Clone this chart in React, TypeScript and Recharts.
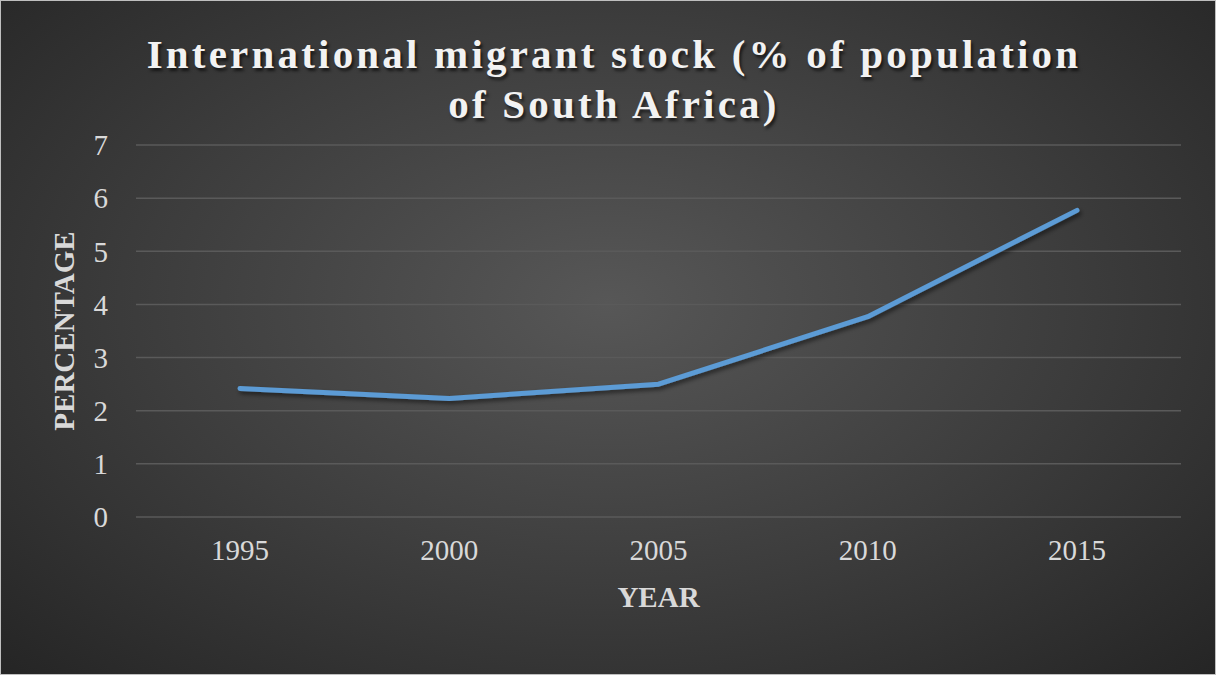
import React from 'react';
import { LineChart, Line, XAxis, YAxis, CartesianGrid } from 'recharts';

const years = ['1995', '2000', '2005', '2010', '2015'];
const migrantShare = [2.42, 2.23, 2.5, 3.77, 5.77];
const yTicks = [0, 1, 2, 3, 4, 5, 6, 7];

const data = years.map((year, i) => ({ year, value: migrantShare[i] }));

const serif = 'Liberation Serif';

const App: React.FC = () => {
  return (
    <div
      style={{
        position: 'absolute',
        left: 0,
        top: 0,
        width: 1216,
        height: 675,
        boxSizing: 'border-box',
        border: '1px solid #bfbfbf',
        background: 'radial-gradient(ellipse at 50% 45%, #575757 0%, #3c3c3c 55%, #252525 100%)',
        fontFamily: serif,
        overflow: 'hidden',
      }}
    >
      <div
        style={{
          position: 'absolute',
          left: 0,
          top: 28,
          width: 1226,
          textAlign: 'center',
          color: '#f2f2f2',
          fontFamily: serif,
          fontSize: 41,
          fontWeight: 'bold',
          letterSpacing: 3.2,
          lineHeight: '50px',
          textShadow: '2px 3px 3px rgba(0,0,0,0.6)',
        }}
      >
        International migrant stock (% of population
        <br />
        of South Africa)
      </div>
      <LineChart
        width={1216}
        height={675}
        data={data}
        margin={{ top: 144, right: 36, bottom: 99, left: 0 }}
      >
        <defs>
          <filter id="lineShadow" x="-5%" y="-20%" width="110%" height="140%">
            <feDropShadow dx="2" dy="3" stdDeviation="2" floodColor="#000" floodOpacity="0.5" />
          </filter>
        </defs>
        <CartesianGrid vertical={false} stroke="#5a5a5a" strokeWidth={1.5} />
        <XAxis
          dataKey="year"
          axisLine={false}
          tickLine={false}
          tickMargin={16}
          height={60}
          padding={{ left: 104, right: 104 }}
          tick={{ fill: '#d9d9d9', fontSize: 29, fontFamily: serif }}
          label={{
            value: 'YEAR',
            position: 'insideBottom',
            offset: -30,
            fill: '#d9d9d9',
            fontSize: 29,
            fontWeight: 'bold',
            fontFamily: serif,
          }}
        />
        <YAxis
          width={135}
          domain={[0, 7]}
          ticks={yTicks}
          axisLine={false}
          tickLine={false}
          tickMargin={22}
          tick={{ fill: '#d9d9d9', fontSize: 29, fontFamily: serif }}
          label={{
            value: 'PERCENTAGE',
            angle: -90,
            position: 'insideLeft',
            offset: 63,
            fill: '#d9d9d9',
            fontSize: 29,
            fontWeight: 'bold',
            fontFamily: serif,
            style: { textAnchor: 'middle' },
          }}
        />
        <Line
          type="linear"
          dataKey="value"
          stroke="#5b9bd5"
          strokeWidth={5}
          strokeLinecap="round"
          strokeLinejoin="round"
          dot={false}
          activeDot={false}
          filter="url(#lineShadow)"
          isAnimationActive={false}
        />
      </LineChart>
    </div>
  );
};

export default App;
